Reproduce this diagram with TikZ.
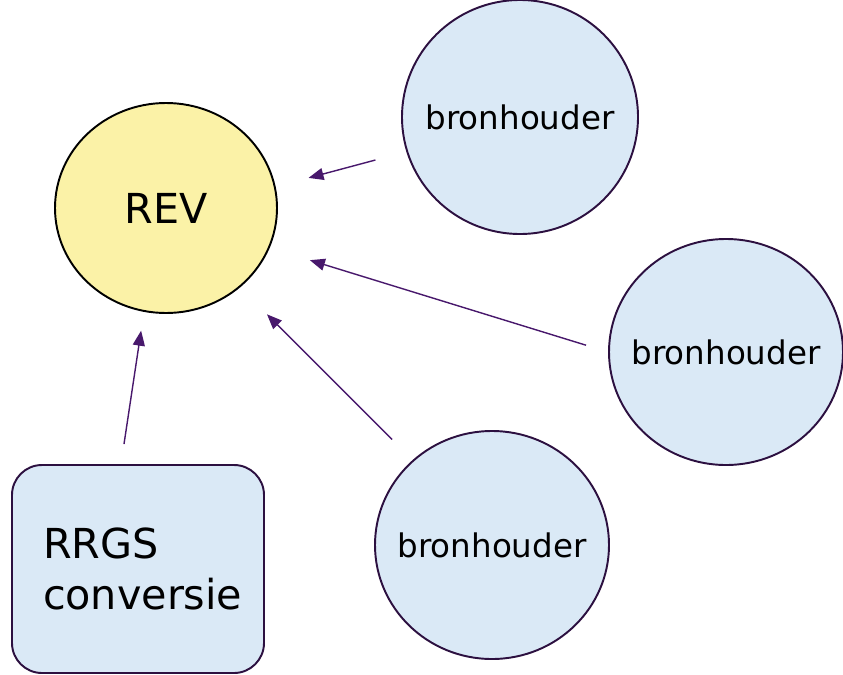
\documentclass[tikz,border=0pt]{standalone}
\usepackage{fontspec}
\setmainfont{DejaVu Sans}
\usetikzlibrary{calc,shapes.geometric,arrows.meta}

\definecolor{revfill}{RGB}{251,242,167}
\definecolor{bronfill}{RGB}{218,233,246}
\definecolor{pijl}{RGB}{72,24,108}
\definecolor{rand}{RGB}{44,16,64}

\tikzset{
  bron/.style={ellipse,draw=rand,line width=1.1pt,fill=bronfill,inner sep=0pt,
    font=\fontsize{18.5}{22}\selectfont},
  pijlen/.style={draw=pijl,line width=0.8pt,-{Triangle[length=0.3cm,width=0.24cm]}}
}

\begin{document}
\begin{tikzpicture}
  \useasboundingbox (0,0) rectangle (16.86,-13.48);

  \node[ellipse,draw=black,line width=1.1pt,fill=revfill,inner sep=0pt,
    minimum width=4.44cm,minimum height=4.2cm,
    font=\fontsize{23.5}{28}\selectfont] (rev) at (3.32,-4.16) {\makebox[0pt]{REV}};

  \node[bron,minimum width=4.72cm,minimum height=4.68cm] (bron1) at (10.4,-2.34) {\makebox[0pt]{bronhouder}};
  \node[bron,minimum width=4.68cm,minimum height=4.52cm] (bron2) at (14.52,-7.04) {\makebox[0pt]{bronhouder}};
  \node[bron,minimum width=4.68cm,minimum height=4.56cm] (bron3) at (9.84,-10.9) {\makebox[0pt]{bronhouder}};

  \node[draw=rand,line width=1.1pt,fill=bronfill,rounded corners=0.6cm,
    minimum width=5.04cm,minimum height=4.16cm,inner xsep=0.62cm,
    text width=3.8cm,align=left,
    font=\fontsize{23.5}{28.5}\selectfont] (rrgs) at (2.76,-11.38) {RRGS\\conversie};

  \draw[pijlen,shorten <=0.64cm,shorten >=0.68cm] (bron1.197) -- (rev.11);
  \draw[pijlen,shorten <=0.46cm,shorten >=0.84cm] (bron2.180) -- (rev.-21);
  \draw[pijlen,shorten <=0.58cm,shorten >=0.76cm] (bron3.133) -- (rev.-47);
  \draw[pijlen,shorten >=0.38cm] ($(rrgs.north)+(-0.28,0.4)$) -- (rev.-102);
\end{tikzpicture}
\end{document}
